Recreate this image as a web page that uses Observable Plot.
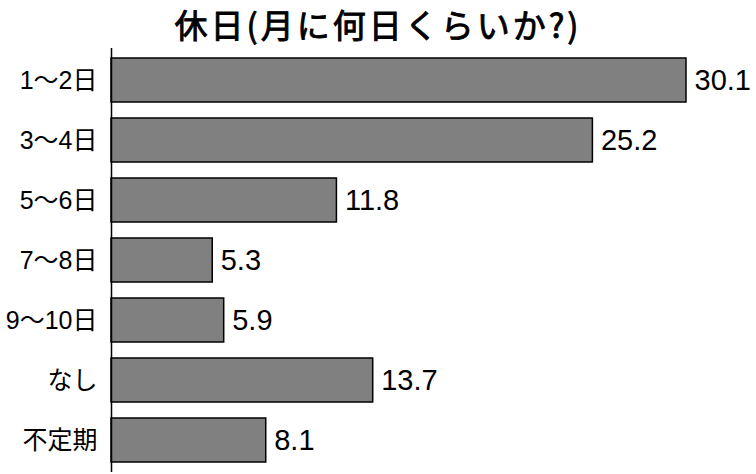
<!DOCTYPE html>
<html>
<head>
<meta charset="utf-8">
<script src="https://cdn.jsdelivr.net/npm/d3@7"></script>
<script src="https://cdn.jsdelivr.net/npm/@observablehq/plot@0.6"></script>
<style>
  body { margin: 0; background: #fff; }
  #title { height: 48px; line-height: 48px; text-align: center; font-family: "Noto Sans CJK JP", sans-serif; font-weight: normal; font-size: 33px; letter-spacing: 3px; color: #000; white-space: nowrap; -webkit-text-stroke: 0.9px #000; }
  svg { display: block; }
</style>
</head>
<body>
<div id="title">休日(月に何日くらいか?)</div>
<div id="chart"></div>
<script>
const categories = ["1～2日", "3～4日", "5～6日", "7～8日", "9～10日", "なし", "不定期"];
const values = [30.1, 25.2, 11.8, 5.3, 5.9, 13.7, 8.1];

const data = categories.map((c, i) => ({category: c, value: values[i]}));

const chart = Plot.plot({
  width: 756,
  height: 426,
  marginLeft: 111,
  marginRight: 70,
  marginTop: 0,
  marginBottom: 2,
  style: {fontFamily: "'Liberation Sans', 'Noto Sans CJK JP', sans-serif", color: "#000", background: "#fff", overflow: "visible"},
  x: {domain: [0, 30.1], axis: null},
  y: {domain: categories, paddingInner: 0.275, paddingOuter: 0.1375, axis: null},
  marks: [
    Plot.barX(data, {x: "value", y: "category", fill: "#808080", stroke: "#000", strokeWidth: 1.5}),
    Plot.ruleX([0], {stroke: "#000", strokeWidth: 1.5}),
    Plot.text(data, {x: "value", y: "category", text: d => d.value.toFixed(1), textAnchor: "start", dx: 8, fontSize: 29, fill: "#000"}),
    Plot.axisY({tickSize: 0, tickPadding: 14, fontSize: 25, label: null})
  ]
});
document.getElementById("chart").appendChild(chart);
</script>
</body>
</html>
